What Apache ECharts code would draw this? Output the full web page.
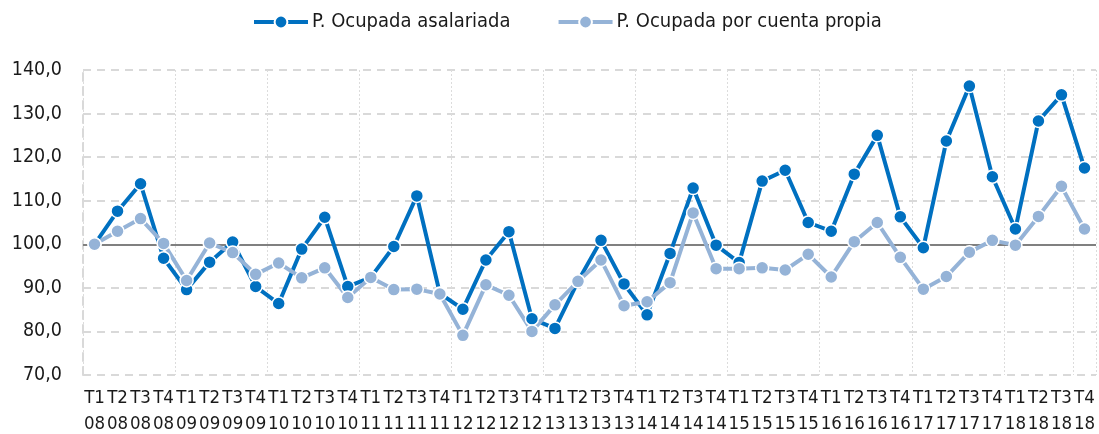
<!DOCTYPE html>
<html>
<head>
<meta charset="utf-8">
<script src="https://cdn.jsdelivr.net/npm/echarts@6/dist/echarts.min.js"></script>
<style>
  html, body { margin: 0; padding: 0; background: #fff; }
  #main { width: 1099px; height: 434px; }
</style>
</head>
<body>
<div id="main"></div>
<script>
// trimestres y años del eje X
var quarters = ['T1', 'T2', 'T3', 'T4'];
var years = ['08', '09', '10', '11', '12', '13', '14', '15', '16', '17', '18'];

// índices (base 100 = T1 08)
var asalariada = [100.0, 107.6, 113.9, 96.8, 89.6, 95.9, 100.5, 90.3, 86.4, 98.9, 106.2, 90.3,
  92.4, 99.5, 111.1, 88.7, 85.1, 96.4, 102.9, 82.9, 80.7, 91.5, 100.9, 90.9,
  83.8, 97.9, 112.9, 99.8, 95.8, 114.5, 117.0, 105.0, 103.0, 116.1, 125.0, 106.3,
  99.2, 123.7, 136.3, 115.5, 103.5, 128.3, 134.3, 117.5];
var cuentaPropia = [100.0, 103.0, 105.9, 100.2, 91.7, 100.3, 98.1, 93.1, 95.7, 92.3, 94.6, 87.8,
  92.4, 89.6, 89.7, 88.6, 79.1, 90.7, 88.3, 80.0, 86.1, 91.5, 96.4, 85.9,
  86.8, 91.2, 107.2, 94.4, 94.4, 94.6, 94.1, 97.7, 92.5, 100.6, 105.0, 97.0,
  89.7, 92.6, 98.2, 100.9, 99.8, 106.4, 113.3, 103.5];

var categories = [];
years.forEach(function (y) {
  quarters.forEach(function (q) {
    categories.push(q + '\n' + y);
  });
});

var font = '"DejaVu Sans Condensed", "Liberation Sans", sans-serif';
var chart = echarts.init(document.getElementById('main'));

chart.setOption({
  animation: false,
  textStyle: { fontFamily: font },
  legend: {
    top: 7,
    left: 247,
    itemWidth: 54,
    itemHeight: 16,
    itemGap: 46,
    lineStyle: { width: 4 },
    textStyle: { fontFamily: font, fontSize: 20, color: '#1a1a1a', padding: [0, 0, 0, -1] }
  },
  grid: { left: 83, right: 3, top: 70, bottom: 59, outerBoundsMode: 'none', containLabel: false },
  xAxis: {
    type: 'category',
    data: categories,
    boundaryGap: true,
    axisLine: { show: false },
    axisTick: { show: false },
    axisLabel: {
      interval: 0,
      margin: 10,
      fontFamily: font,
      fontSize: 18.5,
      lineHeight: 26,
      color: '#1a1a1a'
    },
    splitLine: {
      show: true,
      interval: 3,
      lineStyle: { color: '#dcdcdc', width: 1, type: [2, 2] }
    }
  },
  yAxis: {
    type: 'value',
    min: 70,
    max: 140,
    interval: 10,
    axisLine: { show: true, lineStyle: { color: '#d9d9d9', width: 2, type: [8, 6] } },
    axisTick: { show: false },
    axisLabel: {
      margin: 21,
      fontFamily: font,
      fontSize: 19.5,
      color: '#1a1a1a',
      formatter: function (v) { return v.toFixed(1).replace('.', ','); }
    },
    splitLine: { lineStyle: { color: '#d9d9d9', width: 2, type: [8, 6] } }
  },
  series: [
    {
      name: 'P. Ocupada asalariada',
      type: 'line',
      data: asalariada,
      symbol: 'circle',
      symbolSize: 13,
      color: '#0070C0',
      lineStyle: { width: 4, color: '#0070C0' },
      itemStyle: { color: '#0070C0', borderColor: '#fff', borderWidth: 1.5 },
      markLine: {
        silent: true,
        z: 1,
        symbol: 'none',
        label: { show: false },
        lineStyle: { color: '#808080', width: 2, type: 'solid' },
        data: [{ yAxis: 100 }]
      }
    },
    {
      name: 'P. Ocupada por cuenta propia',
      type: 'line',
      data: cuentaPropia,
      symbol: 'circle',
      symbolSize: 13,
      color: '#95B3D7',
      lineStyle: { width: 4, color: '#95B3D7' },
      itemStyle: { color: '#95B3D7', borderColor: '#fff', borderWidth: 1.5 }
    }
  ]
});
</script>
</body>
</html>
